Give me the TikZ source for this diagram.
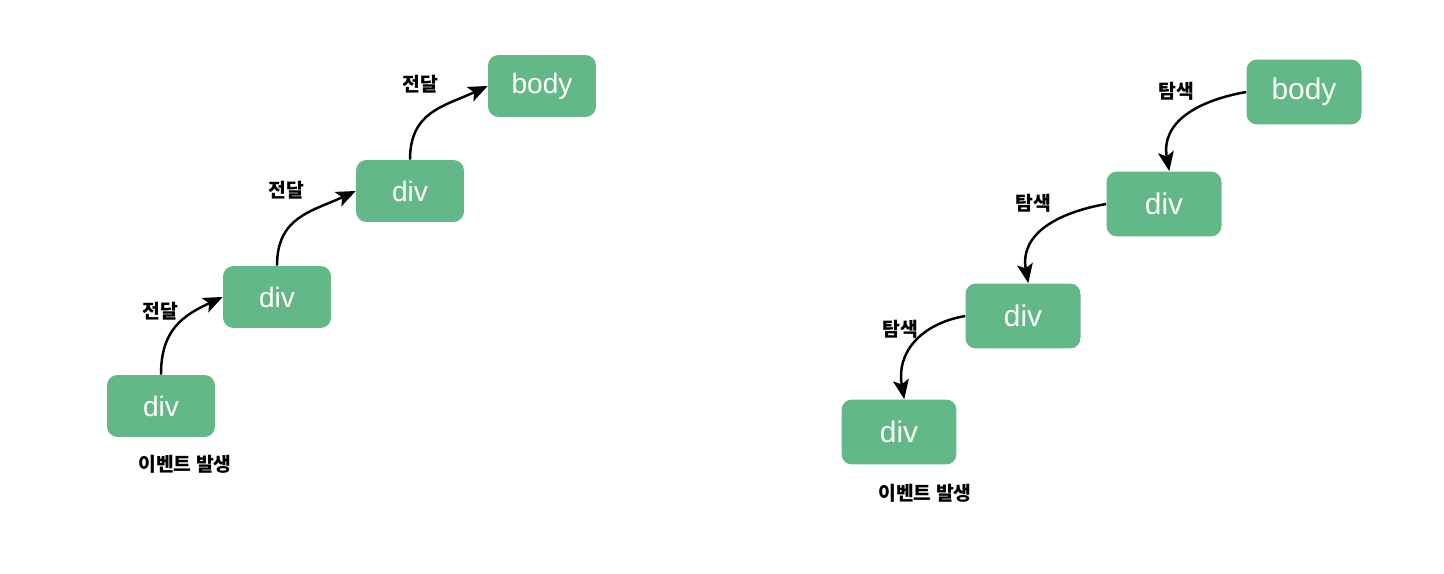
\documentclass[tikz,border=0pt]{standalone}
\usepackage{fontspec}
\setmainfont{Noto Sans CJK KR}
\newfontfamily\boxfont{Liberation Sans}
\usetikzlibrary{arrows.meta, positioning}
\definecolor{boxgreen}{RGB}{99,184,135}

\begin{document}
\begin{tikzpicture}[
    x=0.02cm, y=-0.02cm,
    >={Stealth[length=11pt, width=9pt, inset=2.5pt]},
    elembox/.style={rectangle, rounded corners=6pt, fill=boxgreen,
        text=white, font=\boxfont\fontsize{16}{18}\selectfont,
        minimum width=2.16cm, minimum height=1.24cm, inner sep=0pt},
    bigbox/.style={elembox, minimum width=2.3cm, minimum height=1.3cm,
        font=\boxfont\fontsize{17}{19}\selectfont},
    steplabel/.style={font=\fontsize{11}{13}\selectfont\bfseries, inner sep=1pt},
    flow/.style={->, line width=1.4pt, looseness=1.15},
]
\useasboundingbox (0,0) rectangle (1444,574);

% === BUBBLING (Left side) ===
\node[elembox] (ld1) at (161, 406) {div};
\node[elembox] (ld2) at (277, 297) {div};
\node[elembox] (ld3) at (410, 191) {div};
\node[elembox] (lbody) at (542, 86) {body};

\node[steplabel] (levent) at (185, 464) {이벤트 발생};

\draw[flow] (ld1.north) to[out=90, in=205] (ld2.west);
\draw[flow] (ld2.north) to[out=90, in=205] (ld3.west);
\draw[flow] (ld3.north) to[out=90, in=205] (lbody.west);

\node[steplabel] (lpass1) at (160, 311) {전달};
\node[steplabel] (lpass2) at (286, 190) {전달};
\node[steplabel] (lpass3) at (420, 84) {전달};

% === CAPTURING (Right side) ===
\node[bigbox] (rbody) at (1304, 92) {body};
\node[bigbox] (rd1) at (1164, 204) {div};
\node[bigbox] (rd2) at (1023, 316) {div};
\node[bigbox] (rd3) at (899, 432) {div};

\node[steplabel] (revent) at (925, 493) {이벤트 발생};

\draw[flow] (rbody.west) to[out=190, in=100] ([xshift=3]rd1.north);
\draw[flow] (rd1.west) to[out=190, in=100] ([xshift=3]rd2.north);
\draw[flow] (rd2.west) to[out=190, in=100] ([xshift=3]rd3.north);

\node[steplabel] (rsearch1) at (1176, 91) {탐색};
\node[steplabel] (rsearch2) at (1033, 203) {탐색};
\node[steplabel] (rsearch3) at (900, 329) {탐색};

\end{tikzpicture}
\end{document}
